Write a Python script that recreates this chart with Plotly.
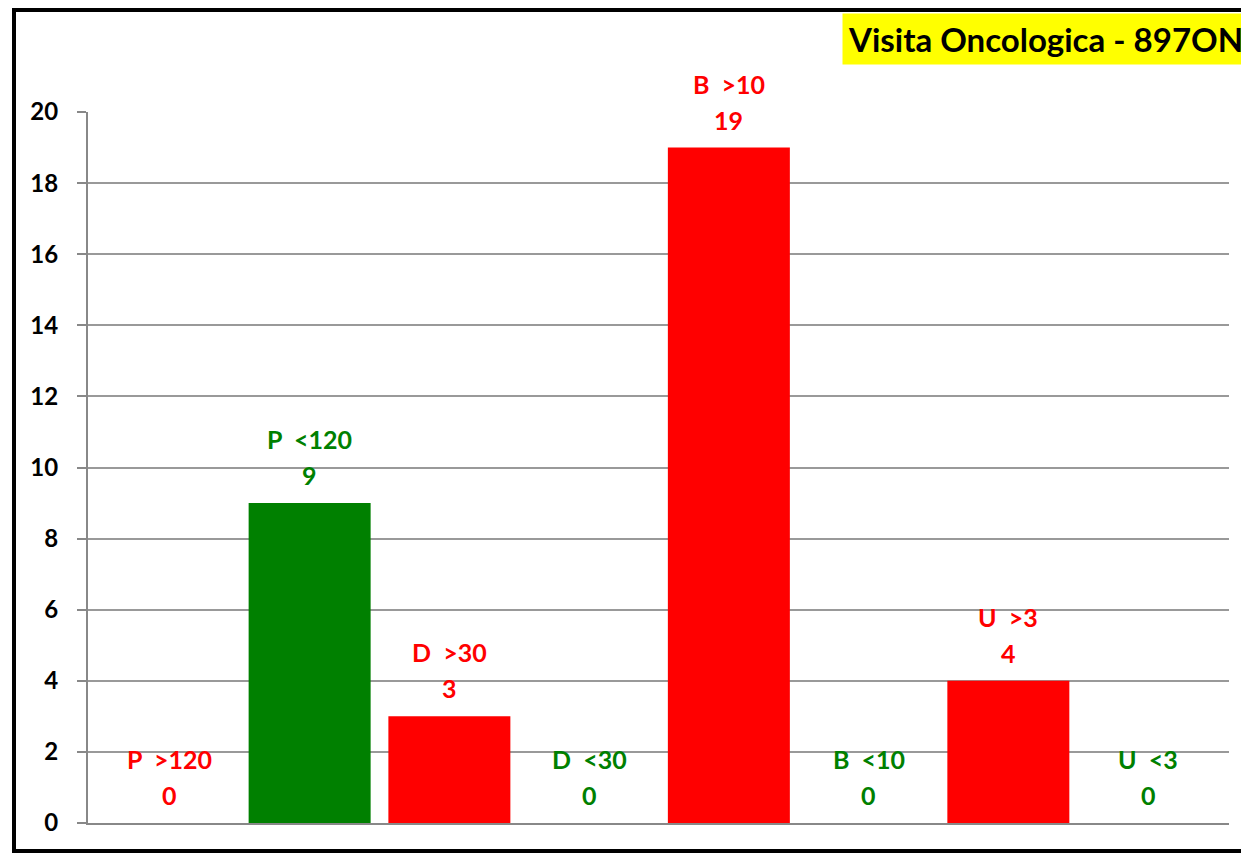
import plotly.graph_objects as go

categories = ["P  >120", "P  <120", "D  >30", "D  <30", "B  >10", "B  <10", "U  >3", "U  <3"]
values = [0, 9, 3, 0, 19, 0, 4, 0]
colors = ["#FF0000", "#008000", "#FF0000", "#008000", "#FF0000", "#008000", "#FF0000", "#008000"]
title_text = "Visita Oncologica - 897ON"
y_ticks = [0, 2, 4, 6, 8, 10, 12, 14, 16, 18, 20]

W, H = 1249, 855
OFF = 8  # page body margin offset
# target plot area in screenshot pixels: x 88..1229, y 112..823
ML = 88 - OFF
MR = W - (1229 - OFF)
MT = 112 - OFF
MB = H - (823 - OFF)
pw = W - ML - MR
ph = H - MT - MB

def px_x(px):
    return (px - OFF - ML) / pw

def px_y(py):
    return (H - MB - (py - OFF)) / ph

FONT = "Lato, 'Open Sans', sans-serif"

fig = go.Figure(go.Bar(
    x=list(range(len(categories))),
    y=values,
    marker=dict(color=colors, line=dict(width=0)),
    width=0.873,
    hoverinfo="skip",
))

annotations = []
for i, (c, v, col) in enumerate(zip(categories, values, colors)):
    annotations.append(dict(
        x=i, y=v, xref="x", yref="y", text=str(v), showarrow=False,
        yanchor="middle", yshift=28,
        font=dict(family=FONT, size=25, color=col, weight="bold"),
    ))
    annotations.append(dict(
        x=i, y=v, xref="x", yref="y", text=c.replace("  ", "\u00a0 "), showarrow=False,
        yanchor="middle", yshift=64,
        font=dict(family=FONT, size=25, color=col, weight="bold"),
    ))

annotations.append(dict(
    x=px_x(842), y=px_y(39), xref="paper", yref="paper",
    text=title_text, showarrow=False, xanchor="left", yanchor="middle",
    bgcolor="#FFFF00", borderpad=5,
    font=dict(family=FONT, size=33, color="black", weight="bold"),
))

fig.update_layout(
    width=W, height=H,
    margin=dict(l=ML, r=MR, t=MT, b=MB),
    paper_bgcolor="white", plot_bgcolor="white",
    showlegend=False,
    annotations=annotations,
    xaxis=dict(
        range=[-0.586, len(categories) - 0.421],
        showticklabels=False, showgrid=False, zeroline=False,
        showline=True, linecolor="#888888", linewidth=2,
        ticks="", fixedrange=True,
    ),
    yaxis=dict(
        range=[0, 20], tickvals=y_ticks,
        showgrid=True, gridcolor="#999999", gridwidth=1.5,
        zeroline=False, showline=True, linecolor="#888888", linewidth=2,
        ticks="outside", ticklen=9, tickcolor="#888888", tickwidth=1.5,
        tickfont=dict(family=FONT, size=24, color="black", weight="bold"),
        ticklabelstandoff=14, fixedrange=True,
    ),
    shapes=[dict(
        type="rect", xref="paper", yref="paper",
        x0=px_x(14), x1=px_x(1262), y0=px_y(851), y1=px_y(10),
        line=dict(color="black", width=4), fillcolor="rgba(0,0,0,0)", layer="above",
    )],
)

fig.write_html("out.html")
